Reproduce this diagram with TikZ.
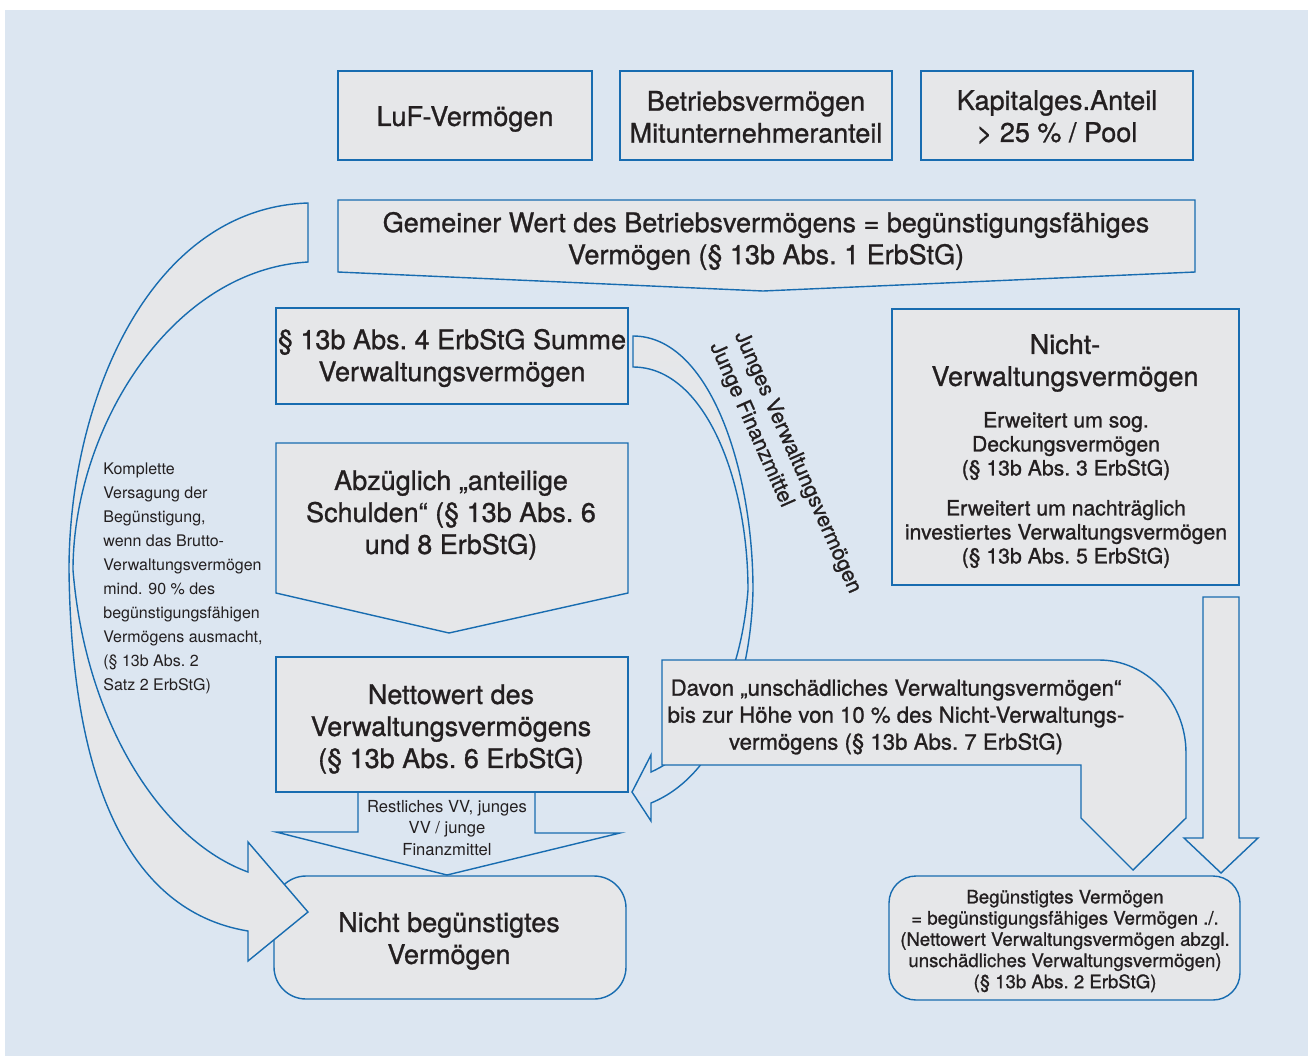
\documentclass[tikz,border=0pt]{standalone}
\usepackage{fontspec}
\setmainfont{TeX Gyre Heros}
\newfontfamily\heavyfont{TeX Gyre Heros}[FakeBold=1]
\definecolor{bgblue}{RGB}{220,230,241}
\definecolor{boxgray}{RGB}{230,231,233}
\definecolor{edgeblue}{RGB}{24,108,176}
\definecolor{inkgray}{RGB}{35,31,32}
\begin{document}
\begin{tikzpicture}[x=0.5pt, y=-0.5pt, line join=miter,
    pane/.style={draw=edgeblue, fill=boxgray, line width=0.7pt},
    rim/.style={draw=edgeblue, line width=0.7pt},
    bigtext/.style={text=inkgray, align=center, inner sep=0pt, font=\heavyfont\fontsize{13.5}{16}\selectfont},
    midtext/.style={text=inkgray, align=center, inner sep=0pt, font=\heavyfont\fontsize{10.6}{12}\selectfont},
    davontext/.style={text=inkgray, align=center, inner sep=0pt, font=\heavyfont\fontsize{11.1}{13.5}\selectfont},
    begtext/.style={text=inkgray, align=center, inner sep=0pt, font=\heavyfont\fontsize{9.3}{10.6}\selectfont},
    sidetext/.style={text=inkgray, align=left, inner sep=0pt, font=\fontsize{8}{12}\selectfont},
    vvtext/.style={text=inkgray, align=center, inner sep=0pt, font=\fontsize{8.3}{10.75}\selectfont}]
  \useasboundingbox (0,0) rectangle (1308,1056);
  \fill[white] (0,0) rectangle (1308,1056);
  \fill[bgblue] (5,10) rectangle (1308,1056);

  \draw[pane] (338,71) rectangle (592,160);
  \draw[pane] (620,71) rectangle (892,160);
  \draw[pane] (921,71) rectangle (1193,160);
  \draw[pane] (338,200) -- (1195,200) -- (1195,272) -- (763,291) -- (338,272) -- cycle;
  \draw[pane] (276,308) rectangle (628,404);
  \draw[pane] (276,443) -- (628,443) -- (628,593) -- (449,633) -- (276,593) -- cycle;
  \draw[pane] (276,657) rectangle (628,792);
  \draw[rim] (358,792) -- (358,832) -- (276,832) -- (447,875) -- (620,833) -- (535,833) -- (535,792);
  \draw[pane, rounded corners=16pt] (274,876) rectangle (626,999);
  \draw[pane] (892,309) rectangle (1239,585);
  \draw[pane, rounded corners=13.5pt] (889,876) rectangle (1240,1000);

  \draw[pane] (308,203) .. controls (150,208) and (69,400) .. (69,570)
    .. controls (72,820) and (150,915) .. (248,931) -- (248,961) -- (308,912)
    -- (248,842) -- (248,872) .. controls (160,840) and (85,720) .. (73,570)
    .. controls (73,430) and (170,270) .. (308,262) -- cycle;

  \draw[rim, top color=boxgray, middle color=boxgray, bottom color=bgblue]
    (633,336) .. controls (710,336) and (753,470) .. (753,590)
    .. controls (751,680) and (720,775) .. (651,803) -- (651,821) -- (632,792)
    -- (651,755) -- (651,772) .. controls (700,750) and (740,690) .. (748,590)
    .. controls (748,480) and (705,367) .. (633,367) -- cycle;

  \draw[pane] (662,660) -- (1099,660) .. controls (1147,660) and (1186,702) .. (1186,753)
    -- (1186,818) -- (1133,870) -- (1081,818) -- (1081,765) -- (662,765) -- cycle;
  \draw[pane] (1203,597) -- (1239,597) -- (1239,838) -- (1258,838) -- (1221,873)
    -- (1184,838) -- (1203,838) -- cycle;

  \node[bigtext] (luf) at (465,119) {LuF-Vermögen};
  \node[bigtext] (betrieb) at (756,117) {Betriebsvermögen\\Mitunternehmeranteil};
  \node[bigtext] (kapital) at (1057,117) {Kapitalges.Anteil\\> 25~\% / Pool};
  \node[bigtext] (gemwert) at (766,241) {Gemeiner Wert des Betriebsvermögens = begünstigungsfähiges\\Vermögen (§~13b Abs.~1 ErbStG)};
  \node[bigtext] (summe) at (452,358) {§~13b Abs.~4 ErbStG Summe\\Verwaltungsvermögen};
  \node[bigtext] (schulden) at (451,515) {Abzüglich „anteilige\\Schulden“ (§~13b Abs.~6\\und 8 ErbStG)};
  \node[bigtext] (netto) at (451,729) {Nettowert des\\Verwaltungsvermögens\\(§~13b Abs.~6 ErbStG)};
  \node[bigtext] (nichtbeg) at (449,941) {Nicht begünstigtes\\Vermögen};
  \node[bigtext] (nichtvv) at (1065,363) {Nicht-\\Verwaltungsvermögen};
  \node[midtext] (deckung) at (1066,446) {Erweitert um sog.\\Deckungsvermögen\\(§~13b Abs.~3 ErbStG)};
  \node[midtext] (invest) at (1066,534) {Erweitert um nachträglich\\investiertes Verwaltungsvermögen\\(§~13b Abs.~5 ErbStG)};
  \node[davontext] (davon) at (896,717) {Davon „unschädliches Verwaltungsvermögen“\\bis zur Höhe von 10~\% des Nicht-Verwaltungs-\\vermögens (§~13b Abs.~7 ErbStG)};
  \node[begtext] (beg) at (1065,941) {Begünstigtes Vermögen\\= begünstigungsfähiges Vermögen ./.\\(Nettowert Verwaltungsvermögen abzgl.\\unschädliches Verwaltungsvermögen)\\(§~13b Abs.~2 ErbStG)};
  \node[vvtext] (rest) at (447,828) {Restliches VV, junges\\VV / junge\\Finanzmittel};
  \node[sidetext, anchor=west] (versagung) at (103,578) {Komplette\\Versagung der\\Begünstigung,\\wenn das Brutto-\\Verwaltungsvermögen\\mind. 90~\% des\\begünstigungsfähigen\\Vermögens ausmacht,\\(§~13b Abs.~2\\Satz 2 ErbStG)};
  \node[midtext, font=\heavyfont\fontsize{10.6}{13.5}\selectfont, align=left, rotate=-66, anchor=west] (jung) at (727,338) {Junges Verwaltungsvermögen\\Junge Finanzmittel};
\end{tikzpicture}
\end{document}
